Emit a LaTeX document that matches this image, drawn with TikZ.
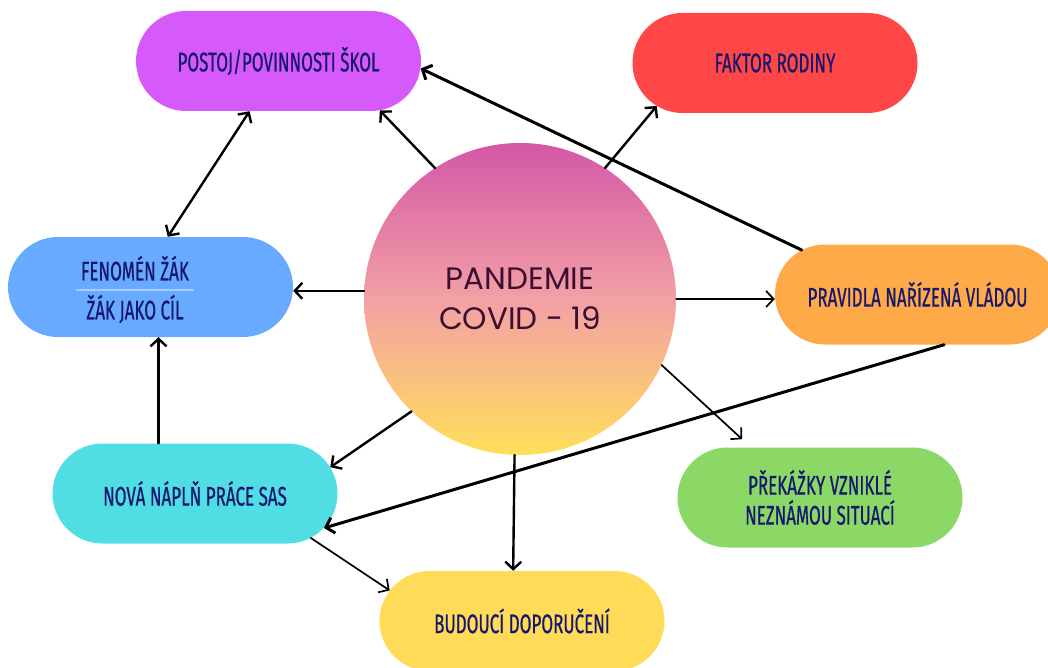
\documentclass[tikz,border=0pt]{standalone}
\usepackage{fontspec}
\usetikzlibrary{shapes.misc,arrows.meta}
\newfontfamily\popisfont[FakeStretch=0.63, FakeBold=0.6]{Fira Sans}
\newfontfamily\kruhfont{Poppins}
\definecolor{fialova}{RGB}{214,90,250}
\definecolor{cervena}{RGB}{255,71,71}
\definecolor{modra}{RGB}{104,170,255}
\definecolor{oranzova}{RGB}{255,170,72}
\definecolor{tyrkys}{RGB}{80,222,228}
\definecolor{zelena}{RGB}{139,216,102}
\definecolor{zluta}{RGB}{255,219,88}
\definecolor{napis}{RGB}{22,24,110}
\definecolor{kruhnapis}{RGB}{60,15,50}
\definecolor{linka}{RGB}{170,205,255}

\begin{document}
\begin{tikzpicture}[x=1pt, y=-1pt, line cap=round, line join=round,
  >={Straight Barb[length=7.5pt,width=16pt]},
  popis/.style={inner sep=0pt, text=napis, align=center,
    font=\popisfont\fontsize{27}{30}\selectfont},
  box/.style={popis, rounded rectangle, minimum width=285pt, minimum height=100pt},
  kruh/.style={circle, minimum size=312pt, inner sep=0pt, align=center,
    top color={rgb,255:red,211;green,87;blue,166},
    bottom color={rgb,255:red,255;green,224;blue,90},
    middle color={rgb,255:red,243;green,160;blue,165},
    text=kruhnapis, font=\kruhfont\fontsize{31}{40}\selectfont},
  spoj/.style={->, line width=2.4pt},
  tenky/.style={->, line width=1.7pt},
  silny/.style={->, line width=3pt}]
\useasboundingbox (0,0) rectangle (1048,668);
\clip (0,0) rectangle (1048,668);

\node [kruh] (covid) at (520,299) {PANDEMIE\\COVID - 19};
\node [box, fill=fialova] (skoly) at (278.5,61) {POSTOJ/POVINNOSTI ŠKOL};
\node [box, fill=cervena] (rodina) at (775,63) {FAKTOR RODINY};
\node [box, fill=modra] (zak) at (150.5,287) {};
\node [popis] (zaktext) at (135,289.5) {FENOMÉN ŽÁK\\[9pt]ŽÁK JAKO CÍL};
\draw [linka, line width=2pt] ([xshift=-4pt]zaktext.west) -- ([xshift=4pt]zaktext.east);
\node [box, fill=oranzova] (vlada) at (917.5,294.5) {PRAVIDLA NAŘÍZENÁ VLÁDOU};
\node [box, fill=tyrkys] (sas) at (195,493.5) {NOVÁ NÁPLŇ PRÁCE SAS};
\node [box, fill=zelena] (prekazky) at (820,497.5) {PŘEKÁŽKY VZNIKLÉ\\NEZNÁMOU SITUACÍ};
\node [box, fill=zluta] (doporuceni) at (522,621) {BUDOUCÍ DOPORUČENÍ};

\draw [spoj] (covid.123) -- (skoly.334);
\draw [spoj] (covid.57) -- (rodina.200);
\draw [silny] (vlada.159) -- (skoly.357);
\draw [spoj, <->] (skoly.240) -- (zak.71);
\draw [spoj] (covid.177) -- (covid.177 -| zak.east);
\draw [tenky] (covid.east) -- (covid.east -| vlada.west);
\draw [spoj] ([xshift=8pt]zak.south |- sas.north) -- ([xshift=8pt]zak.south);
\draw [spoj] (covid.226) -- (sas.11);
\draw [silny] (vlada.298) -- (sas.345);
\draw [tenky, shorten >=12pt] (covid.335) -- (prekazky.144);
\draw [spoj] (covid.268) -- (doporuceni.100);
\draw [tenky] (sas.339) -- (doporuceni.167);

\end{tikzpicture}
\end{document}
